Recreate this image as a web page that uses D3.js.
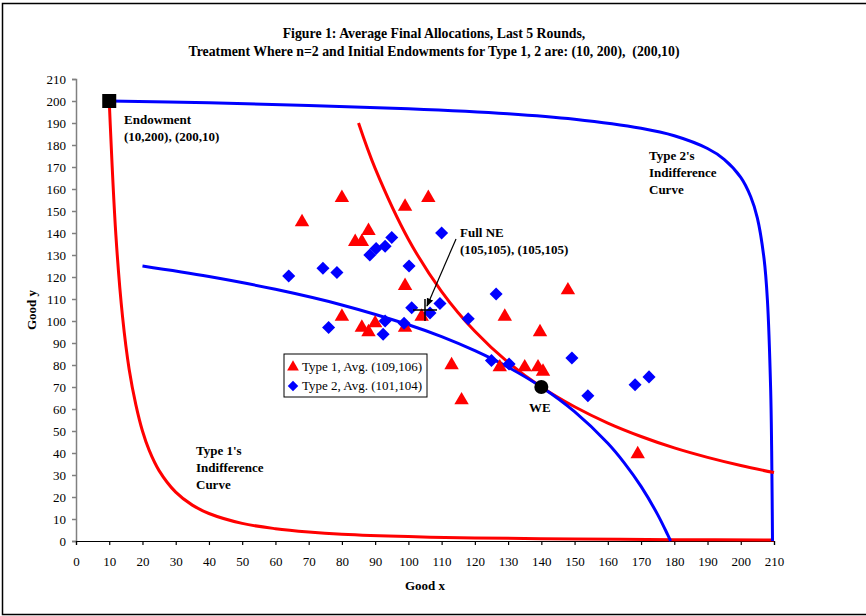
<!DOCTYPE html>
<head>
  <meta charset="utf-8">
  <title>Average Final Allocations</title>
  <script type="text/javascript" src="https://d3js.org/d3.v7.min.js"></script>
  <style type="text/css">
  body {
      margin: 0;
      background: white;
    }
  text {
      font-family: "Liberation Serif", "Times New Roman", serif;
      fill: black;
    }
  .bold {
      font-weight: bold;
    }
  </style>
</head>
<body>
  <script type="text/javascript">

    // Tick labels on both axes
    var tickValues = [0, 10, 20, 30, 40, 50, 60, 70, 80, 90, 100, 110, 120, 130, 140, 150, 160, 170, 180, 190, 200, 210];

    // Type 1 final allocations (x, y)
    var type1X = [68, 80, 84, 86, 88, 99, 106, 99, 80, 86, 88, 90, 99, 104, 113, 116, 129, 127.5, 135, 139, 140.5, 139.6, 148, 169];
    var type1Y = [145, 156, 136, 136, 141, 152, 156, 116, 102, 97, 95, 99, 97, 102, 80, 64, 102, 79, 79, 79, 77, 95, 114, 39.5];

    // Type 2 final allocations (x, y)
    var type2X = [64, 74.3, 78.5, 88.4, 90.3, 93, 95, 110, 100.2, 101, 109.5, 106.5, 93, 98.7, 76, 92.4, 118, 126.4, 125, 130.3, 149.2, 154, 168.2, 172.4];
    var type2Y = [120.5, 124, 122, 130, 133, 134, 138, 140, 125, 106, 108, 103.6, 100, 99, 97, 94, 101, 112.3, 82, 80.5, 83.2, 66, 71, 74.6];

    // Indifference curves
    var type1EndowX = [10, 12, 14, 16, 18, 20, 22, 25, 30, 35, 40, 50, 60, 70, 80, 100, 120, 150, 180, 210];
    var type1EndowY = [200, 139, 102, 78, 62, 50, 41.3, 32, 22.2, 16.3, 12.5, 8, 5.6, 4.1, 3.1, 2, 1.4, 0.9, 0.6, 0.45];

    var type2EndowX = [10, 40, 70, 100, 130, 150, 170, 180, 190, 195, 200, 203, 205, 207, 208, 209, 209.3, 209.45, 209.55];
    var type2EndowY = [200, 199.2, 198, 196.5, 194.2, 191.7, 187.6, 184.2, 178.4, 173.5, 165.3, 156.5, 146.8, 128.4, 110, 68.6, 41, 18, 0];

    var type1WeX = [85, 90, 100, 110, 120, 130, 140, 150, 160, 170, 180, 190, 200, 210];
    var type1WeY = [190, 169.4, 137.2, 113.4, 95.3, 81.2, 70, 61, 53.6, 47.5, 42.3, 38, 34.3, 31.1];

    var type2WeX = [20, 40, 60, 80, 100, 110, 120, 130, 140, 150, 160, 165, 170, 175, 178, 178.9];
    var type2WeY = [125, 120.2, 114.4, 107.3, 98.3, 92.9, 86.5, 79, 70, 58.8, 44.4, 35.4, 24.8, 12, 2.9, 0];

    // Special points
    var endowment = [10, 200];
    var walras = [140, 70];
    var fullNE = [105, 105];

    var legendLabels = ["Type 1, Avg. (109,106)", "Type 2, Avg. (101,104)"];

    var red = "#ff0000", blue = "#0000ff";

    // Create Scalable Vector Graphic
    var svg = d3.select("body").append("svg")
      .attr("width", 866)
      .attr("height", 616);

    // Outer frame
    svg.append("rect")
      .attr("x", 2.5)
      .attr("y", 3.5)
      .attr("width", 880)
      .attr("height", 611)
      .attr("fill", "none")
      .attr("stroke", "black")
      .attr("stroke-width", 1.5);

    // Scales
    var x = d3.scaleLinear().domain([0, 210]).range([76, 774]);
    var y = d3.scaleLinear().domain([0, 210]).range([541, 79]);

    // Title
    svg.append("text")
      .attr("class", "bold")
      .attr("x", 434)
      .attr("y", 38)
      .attr("text-anchor", "middle")
      .style("font-size", "13.8px")
      .text("Figure 1: Average Final Allocations, Last 5 Rounds,");
    svg.append("text")
      .attr("class", "bold")
      .attr("x", 434)
      .attr("y", 56)
      .attr("text-anchor", "middle")
      .style("font-size", "13.8px")
      .style("white-space", "pre")
      .text("Treatment Where n=2 and Initial Endowments for Type 1, 2 are: (10, 200),  (200,10)");

    // Add y axis
    var yAxis = svg.append("g")
      .attr("transform", "translate(76,0)")
      .call(d3.axisLeft(y).tickValues(tickValues).tickSize(4).tickPadding(6));
    yAxis.selectAll("path, line").attr("stroke", "#808080").attr("stroke-width", 1.5);
    yAxis.selectAll("text").style("font-size", "13px").style("font-family", "Liberation Serif");

    // Add x axis
    var xAxis = svg.append("g")
      .attr("transform", "translate(0,541)")
      .call(d3.axisBottom(x).tickValues(tickValues).tickSize(4).tickPadding(12));
    xAxis.selectAll("path, line").attr("stroke", "black").attr("stroke-width", 1.2);
    xAxis.selectAll("text").style("font-size", "13px").style("font-family", "Liberation Serif");

    // Axis labels
    svg.append("text")
      .attr("class", "bold")
      .attr("x", 425)
      .attr("y", 590)
      .attr("text-anchor", "middle")
      .style("font-size", "13px")
      .text("Good x");
    svg.append("text")
      .attr("class", "bold")
      .attr("transform", "translate(36,310) rotate(-90)")
      .attr("text-anchor", "middle")
      .style("font-size", "13px")
      .text("Good y");

    // Draw indifference curves
    var line = d3.line()
      .x(function(d) { return x(d[0]); })
      .y(function(d) { return y(d[1]); })
      .curve(d3.curveCatmullRom.alpha(0.5));

    function drawCurve(xs, ys, color) {
      svg.append("path")
        .datum(d3.zip(xs, ys))
        .attr("d", line)
        .attr("fill", "none")
        .attr("stroke", color)
        .attr("stroke-width", 3);
    }
    drawCurve(type1EndowX, type1EndowY, red);
    drawCurve(type2EndowX, type2EndowY, blue);
    drawCurve(type1WeX, type1WeY, red);
    drawCurve(type2WeX, type2WeY, blue);

    // Markers
    var triangle = d3.symbol().type(d3.symbolTriangle).size(90);
    var diamond = d3.symbol().type(d3.symbolSquare).size(85);

    svg.selectAll(".type1")
      .data(d3.zip(type1X, type1Y))
      .enter().append("path")
      .attr("class", "type1")
      .attr("d", triangle)
      .attr("fill", red)
      .attr("transform", function(d) { return "translate(" + x(d[0]) + "," + y(d[1]) + ")"; });

    svg.selectAll(".type2")
      .data(d3.zip(type2X, type2Y))
      .enter().append("path")
      .attr("class", "type2")
      .attr("d", diamond)
      .attr("fill", blue)
      .attr("transform", function(d) { return "translate(" + x(d[0]) + "," + y(d[1]) + ") rotate(45)"; });

    // Endowment square
    svg.append("rect")
      .attr("x", x(endowment[0]) - 7)
      .attr("y", y(endowment[1]) - 7)
      .attr("width", 14)
      .attr("height", 14)
      .attr("fill", "black");

    // Walrasian equilibrium
    svg.append("circle")
      .attr("cx", x(walras[0]))
      .attr("cy", y(walras[1]))
      .attr("r", 7)
      .attr("fill", "black");

    // Full NE cross
    svg.append("path")
      .attr("d", "M" + (x(fullNE[0]) - 12) + "," + y(fullNE[1]) + "H" + (x(fullNE[0]) + 12) +
                 "M" + x(fullNE[0]) + "," + (y(fullNE[1]) - 11) + "V" + (y(fullNE[1]) + 11))
      .attr("stroke", "black")
      .attr("stroke-width", 1.5);

    // Arrow pointing at Full NE
    svg.append("defs").append("marker")
      .attr("id", "arrow")
      .attr("viewBox", "0 0 10 10")
      .attr("refX", 9)
      .attr("refY", 5)
      .attr("markerWidth", 7)
      .attr("markerHeight", 7)
      .attr("orient", "auto")
      .append("path")
      .attr("d", "M0,1L10,5L0,9z")
      .attr("fill", "black");
    svg.append("line")
      .attr("x1", 456)
      .attr("y1", 239)
      .attr("x2", x(fullNE[0]) + 2)
      .attr("y2", y(fullNE[1]) - 4)
      .attr("stroke", "black")
      .attr("stroke-width", 1.2)
      .attr("marker-end", "url(#arrow)");

    // Annotations
    function label(lines, lx, ly) {
      lines.forEach(function(t, i) {
        svg.append("text")
          .attr("class", "bold")
          .attr("x", lx)
          .attr("y", ly + i * 17)
          .style("font-size", "13px")
          .text(t);
      });
    }
    label(["Endowment", "(10,200), (200,10)"], 124, 124);
    label(["Full NE", "(105,105), (105,105)"], 460, 237);
    label(["Type 2's", "Indifference", "Curve"], 649, 160);
    label(["Type 1's", "Indifference", "Curve"], 196, 455);
    label(["WE"], 529, 412);

    // Legend
    var legend = svg.append("g").attr("transform", "translate(284,354)");
    legend.append("rect")
      .attr("width", 143)
      .attr("height", 43)
      .attr("fill", "white")
      .attr("stroke", "black")
      .attr("stroke-width", 1);
    legend.append("path")
      .attr("d", d3.symbol().type(d3.symbolTriangle).size(60))
      .attr("fill", red)
      .attr("transform", "translate(9,13)");
    legend.append("path")
      .attr("d", d3.symbol().type(d3.symbolSquare).size(55))
      .attr("fill", blue)
      .attr("transform", "translate(9,32) rotate(45)");
    legendLabels.forEach(function(t, i) {
      legend.append("text")
        .attr("x", 18)
        .attr("y", 17 + i * 19)
        .style("font-size", "13px")
        .text(t);
    });

  </script>

</body>
</html>
